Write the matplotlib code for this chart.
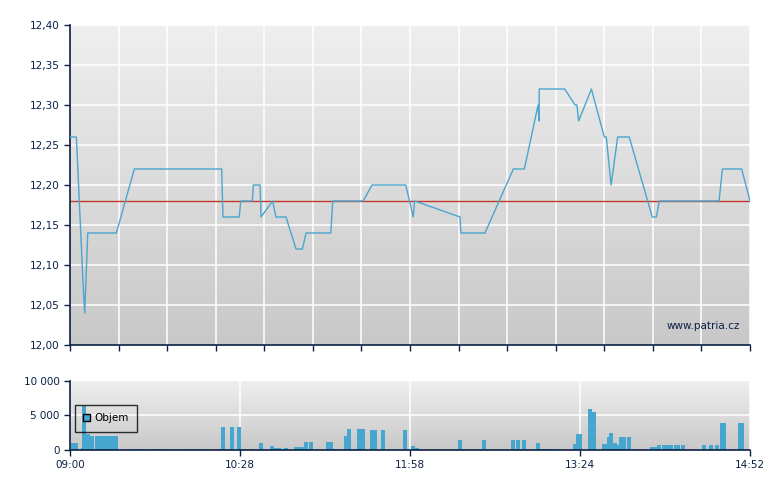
import numpy as np
import matplotlib
matplotlib.use('Agg')
import matplotlib.pyplot as plt
from matplotlib.colors import LinearSegmentedColormap
from matplotlib.patches import Patch


# cena - minuty od 09:00
price_min = [0, 3.3, 6.7, 7.6, 9.2, 24.0, 33.3, 78.5, 79.2, 87.6, 88.4, 94.4, 94.9,
             98.4, 98.9, 104.9, 106.6, 111.8, 117.0, 120.3, 122.2, 135.0, 136.0,
             151.8, 156.3, 173.8, 177.7, 178.4, 201.9, 202.3, 214.8, 229.5, 235.2,
             242.3, 242.8, 242.9, 256.1, 261.4, 262.4, 263.3, 269.9, 276.6, 277.6,
             280.1, 283.5, 289.5, 301.4, 303.5, 305.1, 336.0, 337.7, 347.7, 352]
price = [12.26, 12.26, 12.08, 12.04, 12.14, 12.14, 12.22, 12.22, 12.16, 12.16,
         12.18, 12.18, 12.20, 12.20, 12.16, 12.18, 12.16, 12.16, 12.12, 12.12,
         12.14, 12.14, 12.18, 12.18, 12.20, 12.20, 12.16, 12.18, 12.16, 12.14,
         12.14, 12.22, 12.22, 12.30, 12.28, 12.32, 12.32, 12.30, 12.30, 12.28,
         12.32, 12.26, 12.26, 12.20, 12.26, 12.26, 12.16, 12.16, 12.18, 12.18,
         12.22, 12.22, 12.18]
prev_close = 12.18

# objem
vol_min = [0.5, 2.3, 5.6, 6.2, 8.3, 10.4, 12.9, 14.9, 16.9, 18.9, 20.9, 22.9,
           32.1, 33.2, 35.7, 43.0, 45.0, 46.7, 59.5, 66.3, 76.5, 78.2, 82.8, 86.4,
           88.5, 93.2, 97.8, 103.5, 105.6, 107.3, 110.8, 116.0, 117.5, 119.0,
           121.1, 123.7, 132.5, 134.0, 135.6, 141.8, 143.4, 148.6, 150.7, 155.3,
           156.8, 161.0, 172.4, 176.5, 178.6, 200.8, 213.3, 228.3, 230.9, 234.0,
           241.2, 243.3, 244.8, 246.9, 248.4, 260.4, 261.9, 263.0, 268.1, 270.2,
           275.4, 276.5, 278.0, 279.0, 281.1, 282.1, 284.2, 286.0, 288.3, 300.2,
           302.0, 303.9, 306.4, 308.4, 310.0, 312.7, 313.5, 316.3, 327.1, 330.8,
           333.9, 336.5, 337.6, 345.8, 346.6]
volume = [1000, 1000, 350, 6350, 2250, 2000, 2000, 2000, 2000, 2000, 2000, 2000,
          200, 200, 200, 200, 200, 200, 200, 200, 200, 3300, 3300, 3300,
          200, 150, 1000, 600, 300, 300, 300, 450, 450, 450,
          1200, 1200, 1150, 1150, 150, 2000, 3000, 3000, 3000, 2900,
          2900, 2900, 2900, 600, 300, 1450, 1450, 1450, 1450, 1450,
          1000, 150, 150, 150, 150, 850, 2300, 2300, 5900, 5500,
          850, 850, 1900, 2450, 1000, 700, 1900, 1900, 1900, 450,
          450, 700, 700, 700, 700, 700, 700, 700, 700, 700,
          700, 3900, 3900, 3900, 3900]

price_ticks = [12.00, 12.05, 12.10, 12.15, 12.20, 12.25, 12.30, 12.35, 12.40]
time_labels = ['09:00', '10:28', '11:58', '13:24', '14:52']
vol_ticks = [0, 5000, 10000]
vol_labels = ['0', '5 000', '10 000']

t_end = 352
navy = '#0b2045'
blue = '#4ba5cf'
bar_blue = '#46a6ce'
bg = LinearSegmentedColormap.from_list('bg', ['#c8c8c8', '#efefef'])


def gradient(ax, y0, y1):
    grad = np.linspace(0, 1, 256).reshape(-1, 1)
    ax.imshow(grad, extent=[0, t_end, y0, y1], origin='lower', aspect='auto',
              cmap=bg, zorder=0, interpolation='bilinear')


def style(ax):
    for s in ['top', 'right']:
        ax.spines[s].set_visible(False)
    for s in ['left', 'bottom']:
        ax.spines[s].set_color(navy)
        ax.spines[s].set_linewidth(1.2)
    ax.tick_params(colors=navy, labelcolor=navy, length=4, width=1, labelsize=7.5, direction='out')
    ax.set_axisbelow(False)


fig = plt.figure(figsize=(7.8, 4.9), dpi=100)
fig.patch.set_facecolor('white')

# horni graf
ax = fig.add_axes([70 / 780, 1 - 345 / 490, 680 / 780, 320 / 490])
gradient(ax, 12.0, 12.4)
ax.set_xlim(0, t_end)
ax.set_ylim(12.0, 12.4)
xt = np.linspace(0, t_end, 15)
ax.set_xticks(xt)
ax.set_xticklabels([])
ax.set_yticks(price_ticks)
ax.set_yticklabels([f'{v:.2f}'.replace('.', ',') for v in price_ticks])
for v in price_ticks[1:]:
    ax.axhline(v, color='white', lw=1.1, zorder=1)
for t in xt[1:]:
    ax.axvline(t, color='white', lw=1.1, zorder=1)
ax.axhline(prev_close, color='#c0392b', lw=1, zorder=2)
ax.plot(price_min, price, color=blue, lw=1, zorder=3)
ax.text(0.985, 0.06, 'www.patria.cz', transform=ax.transAxes, ha='right', va='center',
        fontsize=7.5, color=navy)
style(ax)

# objem
axv = fig.add_axes([70 / 780, 1 - 450 / 490, 680 / 780, 69.3 / 490])
gradient(axv, 0, 10000)
axv.set_xlim(0, t_end)
axv.set_ylim(0, 10000)
vt = np.linspace(0, t_end, 5)
axv.set_xticks(vt)
axv.set_xticklabels(time_labels)
axv.set_yticks(vol_ticks)
axv.set_yticklabels(vol_labels)
axv.axhline(5000, color='white', lw=1.1, zorder=1)
axv.axhline(10000, color='#f4f4f4', lw=1.1, zorder=1)
for t in vt[1:]:
    axv.axvline(t, color='white', lw=1.1, zorder=1)
axv.bar(vol_min, volume, width=2.05, align='edge', color=bar_blue, zorder=2)
style(axv)
leg = axv.legend(handles=[Patch(facecolor=bar_blue, edgecolor='black', label='Objem')],
                 loc='upper left', bbox_to_anchor=(0.007, 0.65), borderaxespad=0,
                 fontsize=7.5, frameon=True, fancybox=False, handlelength=0.7,
                 handleheight=0.7, handletextpad=0.4, borderpad=0.8)
leg.get_frame().set_facecolor('none')
leg.get_frame().set_edgecolor('black')
leg.get_frame().set_linewidth(1)

fig.savefig('out.png', dpi=100)
